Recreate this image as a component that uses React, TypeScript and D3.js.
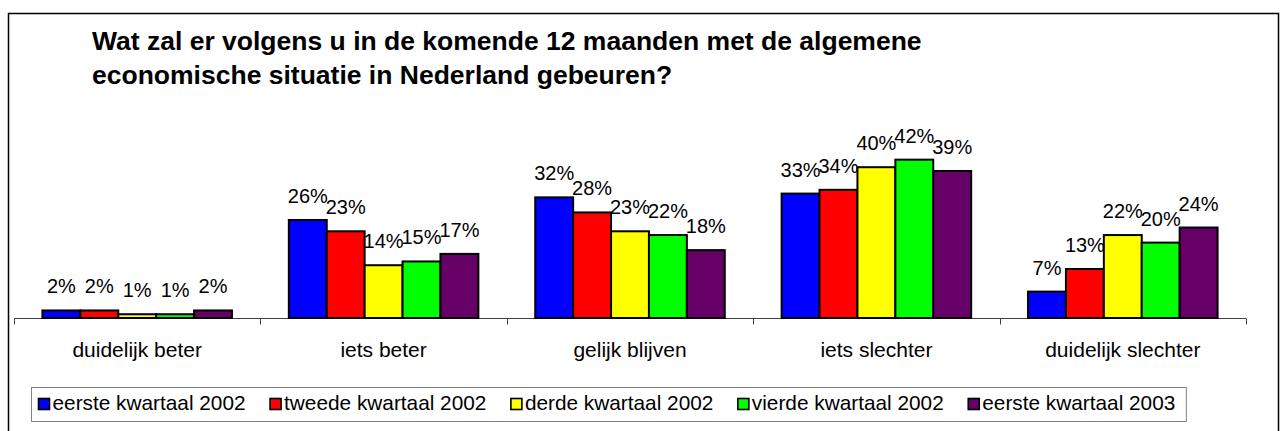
import React, { useEffect, useRef } from "react";
import * as d3 from "d3";

const categories = ["duidelijk beter", "iets beter", "gelijk blijven", "iets slechter", "duidelijk slechter"];
const seriesNames = [
  "eerste kwartaal 2002",
  "tweede kwartaal 2002",
  "derde kwartaal 2002",
  "vierde kwartaal 2002",
  "eerste kwartaal 2003",
];
const seriesColors = ["#0000FF", "#FF0000", "#FFFF00", "#00FF00", "#660066"];
const eerste2002 = [2, 26, 32, 33, 7];
const tweede2002 = [2, 23, 28, 34, 13];
const derde2002 = [1, 14, 23, 40, 22];
const vierde2002 = [1, 15, 22, 42, 20];
const eerste2003 = [2, 17, 18, 39, 24];
const seriesValues = [eerste2002, tweede2002, derde2002, vierde2002, eerste2003];
const titleLines = [
  "Wat zal er volgens u in de komende 12 maanden met de algemene",
  "economische situatie in Nederland gebeuren?",
];

export default function App() {
  const ref = useRef<SVGSVGElement>(null);
  useEffect(() => {
    const svg = d3.select(ref.current);
    svg.selectAll("*").remove();
    const font = "'Liberation Sans', Arial, Helvetica, sans-serif";

    svg
      .append("rect")
      .attr("x", 8.5)
      .attr("y", 13.5)
      .attr("width", 1270)
      .attr("height", 430)
      .attr("fill", "#fff")
      .attr("stroke", "#000")
      .attr("stroke-width", 1.5);

    const title = svg
      .append("text")
      .attr("font-family", font)
      .attr("font-weight", "bold")
      .attr("font-size", 26.5)
      .attr("fill", "#000");
    titleLines.forEach((l, i) => title.append("tspan").attr("x", 92).attr("y", 50 + i * 34).text(l));

    const x0 = d3.scaleBand<string>().domain(categories).range([14, 1246]).paddingInner(0).paddingOuter(0);
    const x1 = d3
      .scaleBand<string>()
      .domain(seriesNames)
      .range([0, x0.bandwidth()])
      .paddingInner(0)
      .paddingOuter(0.75);
    const y = d3.scaleLinear().domain([0, 50]).range([318, 318 - 188.5]);

    // axis
    const axisY = 318.5;
    const boundaries = categories.map((c) => x0(c) as number).concat([x0.range()[1]]);
    svg
      .append("line")
      .attr("x1", 14)
      .attr("x2", 1246)
      .attr("y1", axisY)
      .attr("y2", axisY)
      .attr("stroke", "#404040")
      .attr("stroke-width", 1);
    svg
      .append("g")
      .selectAll("line")
      .data(boundaries)
      .join("line")
      .attr("x1", (d) => Math.round(d) + 0.5)
      .attr("x2", (d) => Math.round(d) + 0.5)
      .attr("y1", axisY)
      .attr("y2", axisY + 6)
      .attr("stroke", "#404040")
      .attr("stroke-width", 1);

    // bars
    seriesNames.forEach((s, si) => {
      svg
        .append("g")
        .selectAll("rect")
        .data(seriesValues[si])
        .join("rect")
        .attr("x", (d, i) => (x0(categories[i]) as number) + (x1(s) as number))
        .attr("y", (d) => y(d))
        .attr("width", x1.bandwidth())
        .attr("height", (d) => y(0) - y(d))
        .attr("fill", seriesColors[si])
        .attr("stroke", "#000")
        .attr("stroke-width", 2);
    });

    // data labels
    seriesNames.forEach((s, si) => {
      svg
        .append("g")
        .selectAll("text")
        .data(seriesValues[si])
        .join("text")
        .attr("x", (d, i) => (x0(categories[i]) as number) + (x1(s) as number) + x1.bandwidth() / 2)
        .attr("y", (d) => y(d) - 17)
        .attr("text-anchor", "middle")
        .attr("font-family", font)
        .attr("font-size", 20)
        .attr("fill", "#000")
        .text((d) => `${d}%`);
    });

    // category labels
    svg
      .append("g")
      .selectAll("text")
      .data(categories)
      .join("text")
      .attr("x", (d) => (x0(d) as number) + x0.bandwidth() / 2)
      .attr("y", 357)
      .attr("text-anchor", "middle")
      .attr("font-family", font)
      .attr("font-size", 21)
      .attr("fill", "#000")
      .text((d) => d);

    // legend
    const lg = svg.append("g");
    const box = lg
      .append("rect")
      .attr("x", 31.5)
      .attr("y", 387.5)
      .attr("height", 34)
      .attr("fill", "#fff")
      .attr("stroke", "#808080")
      .attr("stroke-width", 1);
    let cx = 38;
    let lastEnd = cx;
    seriesNames.forEach((s, si) => {
      lg.append("rect")
        .attr("x", cx + 0.5)
        .attr("y", 398.5)
        .attr("width", 11)
        .attr("height", 11)
        .attr("fill", seriesColors[si])
        .attr("stroke", "#000")
        .attr("stroke-width", 1.6);
      const t = lg
        .append("text")
        .attr("x", cx + 14.5)
        .attr("y", 410)
        .attr("font-family", font)
        .attr("font-size", 20.8)
        .attr("fill", "#000")
        .text(s);
      const w = (t.node() as SVGTextElement).getComputedTextLength();
      lastEnd = cx + 14.5 + w;
      cx = lastEnd + 24;
    });
    box.attr("width", lastEnd + 11 - 31.5);
  }, []);

  return (
    <svg
      ref={ref}
      width={1283}
      height={431}
      style={{ position: "absolute", left: 0, top: 0, display: "block" }}
    />
  );
}
